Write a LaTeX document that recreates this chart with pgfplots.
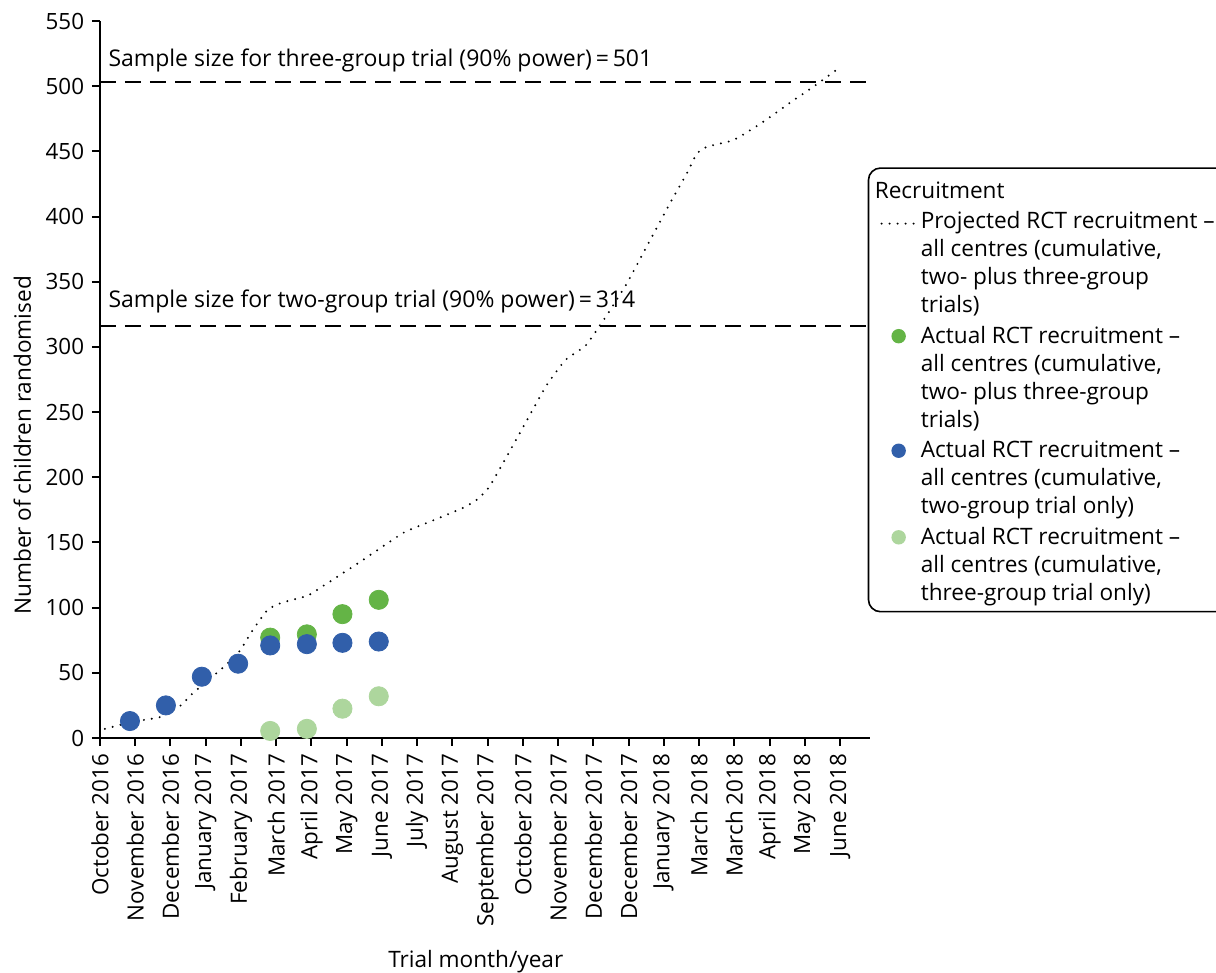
\documentclass[border=0pt]{standalone}
\usepackage{pgfplots}
\pgfplotsset{compat=1.18}
\usepackage{fontspec}
\setmainfont{Open Sans}

\definecolor{cgreen}{HTML}{64B446}
\definecolor{cblue}{HTML}{315FAA}
\definecolor{clight}{HTML}{ADD69D}

\begin{document}
\fontsize{11.3}{14}\selectfont
\begin{tikzpicture}
\path[use as bounding box] (-50pt,-117.5pt) rectangle (558pt,369pt);
\begin{axis}[
    at={(0,0)}, anchor=south west,
    scale only axis,
    width=385pt, height=358.5pt,
    xmin=0, xmax=21.85,
    ymin=0, ymax=550,
    axis lines=left,
    axis line style={-, line width=1pt},
    tick style={line width=1pt, black},
    major tick length=4pt,
    tick align=outside,
    xtick={0,...,21},
    xticklabels={October 2016, November 2016, December 2016, January 2017,
        February 2017, March 2017, April 2017, May 2017, June 2017, July 2017,
        August 2017, September 2017, October 2017, November 2017, December 2017,
        December 2017, January 2018, March 2018, March 2018, April 2018,
        May 2018, June 2018},
    x tick label style={rotate=90, anchor=east},
    ytick={0,50,...,550},
    /pgf/number format/assume math mode=true,
    tick label style={font=\fontsize{11.2}{13}\selectfont},
    xlabel={Trial month/year},
    ylabel={Number of children randomised},
    x label style={font=\fontsize{11.3}{13}\selectfont},
    y label style={font=\fontsize{10.8}{13}\selectfont},
    every axis x label/.style={at={(axis description cs:0.488,-0.312)}, anchor=center},
    every axis y label/.style={at={(axis description cs:-0.101,0.408)}, rotate=90, anchor=center},
    legend style={
        at={(axis description cs:0.997,0.796)}, anchor=north west,
        draw=black, line width=0.8pt, rounded corners=6pt,
        font=\fontsize{11.3}{14}\selectfont,
        inner xsep=6pt,
        cells={anchor=base west, align=left},
        row sep=1pt,
    },
]

% sample size lines
\addplot[forget plot, black, line width=0.8pt, dash pattern=on 8pt off 4.5pt]
    coordinates {(0,503) (21.85,503)};
\addplot[forget plot, black, line width=0.8pt, dash pattern=on 8pt off 4.5pt]
    coordinates {(0,316) (21.85,316)};
\node[anchor=base west, inner sep=0pt, font=\fontsize{11.5}{14}\selectfont] at (axis cs:0.23,515)
    {Sample size for three-group trial (90\% power)\,=\,501};
\node[anchor=base west, inner sep=0pt, font=\fontsize{11.5}{14}\selectfont] at (axis cs:0.23,330)
    {Sample size for two-group trial (90\% power)\,=\,314};

% projected recruitment
\addplot[forget plot, black, line width=1.1pt, line cap=round, dash pattern=on 0pt off 4pt, smooth, tension=0.3]
    coordinates {
    (0.14,7) (0.85,12) (1.42,14.6) (1.70,16) (2.27,24.5) (2.64,34.5)
    (3.49,54) (3.97,67) (4.34,83) (4.77,98.7) (5.19,104) (5.87,109)
    (6.24,115) (7.43,136) (8.61,157.4) (9.46,167) (10.34,177) (10.73,183.5)
    (11.05,192.7) (11.51,214.4) (11.97,236.7) (12.66,270) (13.21,290)
    (13.78,301) (14.19,316.7) (14.47,328) (14.95,348.7) (15.51,376.8)
    (16.17,410) (16.65,433) (16.93,448) (17.22,453.5) (17.97,458.6)
    (18.73,471) (19.67,489) (20.24,499.5) (20.95,513.5)
    };

% actual, two- plus three-group
\addplot[forget plot, only marks, mark=*, mark size=4.8pt, color=cgreen]
    coordinates {(4.83,77) (5.87,79.5) (6.88,95) (7.91,106)};

% actual, two-group only
\addplot[forget plot, only marks, mark=*, mark size=4.8pt, color=cblue]
    coordinates {(0.85,13) (1.87,25) (2.89,47) (3.92,57) (4.83,71) (5.87,72) (6.88,73) (7.91,74)};

% actual, three-group only
\addplot[forget plot, only marks, mark=*, mark size=4.8pt, color=clight]
    coordinates {(4.83,5.4) (5.87,7) (6.88,22.5) (7.91,32)};

% legend (images lifted to the first line of each entry)
\addlegendimage{empty legend}
\addlegendentry{\hspace{-23pt}Recruitment\rule[-2pt]{0pt}{13pt}}
\addlegendimage{black, line width=1.1pt, line cap=round, dash pattern=on 0pt off 4pt, yshift=44.5pt}
\addlegendentry{Projected RCT recruitment --\\all centres (cumulative,\\two- plus three-group\\trials)}
\addlegendimage{only marks, mark=*, mark size=3.2pt, color=cgreen, yshift=45.5pt}
\addlegendentry{Actual RCT recruitment --\\all centres (cumulative,\\two- plus three-group\\trials)}
\addlegendimage{only marks, mark=*, mark size=3.2pt, color=cblue, yshift=31.5pt}
\addlegendentry{Actual RCT recruitment --\\all centres (cumulative,\\two-group trial only)}
\addlegendimage{only marks, mark=*, mark size=3.2pt, color=clight, yshift=31.5pt}
\addlegendentry{Actual RCT recruitment --\\all centres (cumulative,\\three-group trial only)}

\end{axis}
\end{tikzpicture}
\end{document}
